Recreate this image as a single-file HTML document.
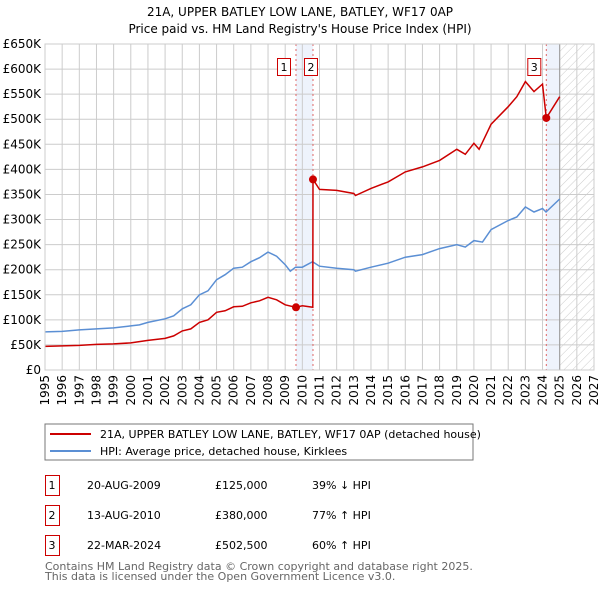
<!DOCTYPE html>
<html><head><meta charset="utf-8"><style>
body{margin:0;background:#fff;font-family:"DejaVu Sans","Liberation Sans",sans-serif;}
svg text{font-family:"DejaVu Sans","Liberation Sans",sans-serif;}
</style></head><body>
<svg id="c" width="600" height="590" viewBox="0 0 600 590" xmlns="http://www.w3.org/2000/svg">
<defs><pattern id="hatch" width="6" height="6" patternUnits="userSpaceOnUse" patternTransform="rotate(45)"><line x1="0" y1="0" x2="0" y2="6" stroke="#ccc" stroke-width="1"/></pattern></defs>
<text x="300" y="16" text-anchor="middle" font-size="12">21A, UPPER BATLEY LOW LANE, BATLEY, WF17 0AP</text>
<text x="300" y="33" text-anchor="middle" font-size="12">Price paid vs. HM Land Registry's House Price Index (HPI)</text>
<g id="plot"></g>
<rect x="45" y="424" width="428" height="36" fill="#fff" stroke="#777"/>
<line x1="50" y1="434" x2="91" y2="434" stroke="#cc0000" stroke-width="2"/>
<text x="100" y="438" font-size="11">21A, UPPER BATLEY LOW LANE, BATLEY, WF17 0AP (detached house)</text>
<line x1="50" y1="451" x2="91" y2="451" stroke="#5b8fd4" stroke-width="2"/>
<text x="100" y="455" font-size="11">HPI: Average price, detached house, Kirklees</text>
<g font-size="11">
<rect x="45.5" y="475.5" width="14" height="20" fill="none" stroke="#cc0000"/><text x="52" y="489" text-anchor="middle">1</text>
<text x="87" y="489">20-AUG-2009</text><text x="215" y="489">£125,000</text><text x="312" y="489">39% ↓ HPI</text>
<rect x="45.5" y="505.5" width="14" height="20" fill="none" stroke="#cc0000"/><text x="52" y="519" text-anchor="middle">2</text>
<text x="87" y="519">13-AUG-2010</text><text x="215" y="519">£380,000</text><text x="312" y="519">77% ↑ HPI</text>
<rect x="45.5" y="535.5" width="14" height="20" fill="none" stroke="#cc0000"/><text x="52" y="549" text-anchor="middle">3</text>
<text x="87" y="549">22-MAR-2024</text><text x="215" y="549">£502,500</text><text x="312" y="549">60% ↑ HPI</text>
</g>
<text x="45" y="570" font-size="11" fill="#666">Contains HM Land Registry data © Crown copyright and database right 2025.</text>
<text x="45" y="580" font-size="11" fill="#666">This data is licensed under the Open Government Licence v3.0.</text>
</svg>
<script>
const hpiYears=[1995,1996,1997,1998,1999,2000,2000.5,2001,2002,2002.5,2003,2003.5,2004,2004.5,2005,2005.5,2006,2006.5,2007,2007.5,2008,2008.5,2009,2009.3,2009.6,2010,2010.6,2011,2012,2013,2013.1,2014,2015,2016,2017,2018,2019,2019.5,2020,2020.5,2021,2022,2022.5,2023,2023.5,2024,2024.2,2025];
const hpiValues=[76,77,80,82,84,88,90,95,102,108,122,130,150,158,180,190,203,205,216,224,235,227,210,197,205,205,216,207,203,200,197,205,213,225,230,242,250,245,258,255,280,298,305,325,315,322,315,341];
const priceYears=[1995,1996,1997,1998,1999,2000,2001,2002,2002.5,2003,2003.5,2004,2004.5,2005,2005.5,2006,2006.5,2007,2007.5,2008,2008.5,2009,2009.63,2010,2010.61,2010.62,2011,2012,2013,2013.1,2014,2015,2016,2017,2018,2019,2019.5,2020,2020.3,2021,2022,2022.5,2023,2023.5,2024,2024.22,2025];
const priceValues=[47,48,49,51,52,54,59,63,68,78,82,95,100,115,118,126,127,134,138,145,140,130,125,128,125,380,360,358,352,348,362,375,395,405,418,440,430,452,440,490,525,545,575,555,570,502.5,545];
const sales=[{n:"1",x:2009.63,v:125},{n:"2",x:2010.62,v:380},{n:"3",x:2024.22,v:502.5}];
const yTicks=[0,50,100,150,200,250,300,350,400,450,500,550,600,650];
const yTickLabels=["£0","£50K","£100K","£150K","£200K","£250K","£300K","£350K","£400K","£450K","£500K","£550K","£600K","£650K"];
const xTicks=[1995,1996,1997,1998,1999,2000,2001,2002,2003,2004,2005,2006,2007,2008,2009,2010,2011,2012,2013,2014,2015,2016,2017,2018,2019,2020,2021,2022,2023,2024,2025,2026,2027];
const L=45,R=594,T=44,B=370;
const X=y=>L+(y-1995)/(2027-1995)*(R-L);
const Y=v=>B-v/650*(B-T);
const NS="http://www.w3.org/2000/svg";
const g=document.getElementById('plot');
function mk(t,a){const e=document.createElementNS(NS,t);for(const k in a)e.setAttribute(k,a[k]);g.appendChild(e);return e;}
let e;
e=mk('rect',{x:X(2009.63),y:T,width:X(2010.62)-X(2009.63),height:B-T,fill:'#eef3fc'});


e=mk('rect',{x:X(2024.22),y:T,width:X(2025)-X(2024.22),height:B-T,fill:'#eef3fc'});


e=mk('rect',{x:X(2025),y:T,width:R-X(2025),height:B-T,fill:'url(#hatch)'});


yTicks.forEach((v,i)=>{
 e=mk('line',{x1:L,x2:R,y1:Y(v),y2:Y(v),stroke:'#ccc'});
 
 
 e=mk('text',{x:L-4,y:Y(v)+4,'text-anchor':'end','font-size':12});
 e.textContent=yTickLabels[i];
 
 
});
xTicks.forEach(y=>{
 e=mk('line',{x1:X(y),x2:X(y),y1:T,y2:B,stroke:'#ccc'});
 
 
 e=mk('text',{x:0,y:0,'font-size':12,'text-anchor':'end',transform:`translate(${X(y)+4},${B+5}) rotate(-90)`});
 e.textContent=String(y);
 
 
});
e=mk('line',{x1:X(2025),x2:X(2025),y1:T,y2:B,stroke:'#999'});


sales.forEach(s=>{
 e=mk('line',{x1:X(s.x),x2:X(s.x),y1:T,y2:B,stroke:'#e06666','stroke-dasharray':'2,3'});
 
 
});
const pts=(xs,vs)=>xs.map((x,i)=>X(x).toFixed(1)+','+Y(vs[i]).toFixed(1)).join(' ');
e=mk('polyline',{points:pts(hpiYears,hpiValues),fill:'none',stroke:'#5b8fd4','stroke-width':1.5});


e=mk('polyline',{points:pts(priceYears,priceValues),fill:'none',stroke:'#cc0000','stroke-width':1.5});


sales.forEach((s,i)=>{
 e=mk('circle',{cx:X(s.x),cy:Y(s.v),r:4,fill:'#cc0000'});
 
 
 const bx=X(s.x)+(i==0?-12:i==1?-2:-12);
 e=mk('rect',{x:bx-6.5,y:58.5,width:13,height:17,fill:'#fff',stroke:'#cc0000'});
 
 
 e=mk('text',{x:bx,y:71,'text-anchor':'middle','font-size':11});
 e.textContent=s.n;
 
 
});
e=mk('rect',{x:L,y:T,width:R-L,height:B-T,fill:'none',stroke:'#ccc'});


</script>
</body></html>
